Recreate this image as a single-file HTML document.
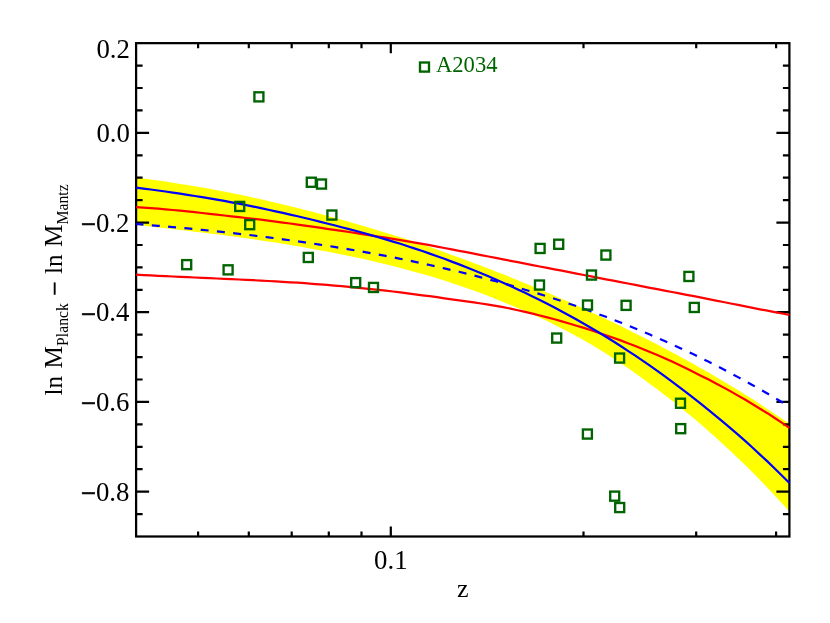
<!DOCTYPE html>
<html><head><meta charset="utf-8"><title>plot</title>
<style>html,body{margin:0;padding:0;background:#fff}svg{display:block;position:absolute;left:0;top:0;will-change:transform;transform:translateZ(0)}text{font-family:"Liberation Serif",serif}</style></head>
<body><svg width="830" height="623" viewBox="0 0 830 623">
<rect width="830" height="623" fill="#fff"/>
<path d="M136.1,177.6 L143.4,178.6 L150.8,179.5 L158.1,180.5 L165.5,181.6 L172.8,182.7 L180.1,183.9 L187.5,185.0 L194.8,186.3 L202.2,187.5 L209.5,188.8 L216.8,190.2 L224.2,191.6 L231.5,193.0 L238.9,194.5 L246.2,196.1 L253.5,197.7 L260.9,199.3 L268.2,201.0 L275.6,202.7 L282.9,204.4 L290.2,206.2 L297.6,208.0 L304.9,209.9 L312.3,211.8 L319.6,213.8 L327.0,215.7 L334.3,217.7 L341.6,219.7 L349.0,221.8 L356.3,223.9 L363.7,226.0 L371.0,228.2 L378.3,230.4 L385.7,232.7 L393.0,234.9 L400.4,237.3 L407.7,239.6 L415.0,242.1 L422.4,244.5 L429.7,247.0 L437.1,249.6 L444.4,252.2 L451.7,254.9 L459.1,257.6 L466.4,260.3 L473.8,263.0 L481.1,265.8 L488.4,268.6 L495.8,271.5 L503.1,274.3 L510.5,277.3 L517.8,280.2 L525.1,283.3 L532.5,286.3 L539.8,289.4 L547.2,292.5 L554.5,295.7 L561.8,298.9 L569.2,302.1 L576.5,305.4 L583.9,308.8 L591.2,312.2 L598.5,315.6 L605.9,319.1 L613.2,322.6 L620.6,326.1 L627.9,329.7 L635.3,333.4 L642.6,337.1 L649.9,340.8 L657.3,344.6 L664.6,348.5 L672.0,352.3 L679.3,356.3 L686.6,360.3 L694.0,364.3 L701.3,368.4 L708.7,372.6 L716.0,376.9 L723.3,381.3 L730.7,385.7 L738.0,390.1 L745.4,394.7 L752.7,399.3 L760.0,404.1 L767.4,409.0 L774.7,413.9 L782.1,418.8 L789.4,423.7 L789.4,511.6 L782.1,503.4 L774.7,495.4 L767.4,487.7 L760.0,480.0 L752.7,472.6 L745.4,465.3 L738.0,458.2 L730.7,451.2 L723.3,444.4 L716.0,437.7 L708.7,431.2 L701.3,424.7 L694.0,418.5 L686.6,412.4 L679.3,406.4 L672.0,400.6 L664.6,394.9 L657.3,389.3 L649.9,383.9 L642.6,378.5 L635.3,373.3 L627.9,368.1 L620.6,363.1 L613.2,358.2 L605.9,353.5 L598.5,349.0 L591.2,344.6 L583.9,340.3 L576.5,336.2 L569.2,332.2 L561.8,328.4 L554.5,324.7 L547.2,321.1 L539.8,317.7 L532.5,314.3 L525.1,311.1 L517.8,308.0 L510.5,304.9 L503.1,301.9 L495.8,298.9 L488.4,296.0 L481.1,293.2 L473.8,290.5 L466.4,287.9 L459.1,285.4 L451.7,283.0 L444.4,280.6 L437.1,278.3 L429.7,276.1 L422.4,274.0 L415.0,271.9 L407.7,269.9 L400.4,267.9 L393.0,266.0 L385.7,264.2 L378.3,262.4 L371.0,260.7 L363.7,259.1 L356.3,257.5 L349.0,255.9 L341.6,254.5 L334.3,253.0 L327.0,251.6 L319.6,250.3 L312.3,248.9 L304.9,247.6 L297.6,246.3 L290.2,245.0 L282.9,243.8 L275.6,242.6 L268.2,241.5 L260.9,240.4 L253.5,239.3 L246.2,238.2 L238.9,237.2 L231.5,236.2 L224.2,235.2 L216.8,234.3 L209.5,233.4 L202.2,232.5 L194.8,231.7 L187.5,230.8 L180.1,230.0 L172.8,229.1 L165.5,228.3 L158.1,227.5 L150.8,226.6 L143.4,225.8 L136.1,225.0Z" fill="#ffff00"/>
<path d="M198.1,536.5 v-5 M198.1,43.15 v5 M248.8,536.5 v-5 M248.8,43.15 v5 M291.7,536.5 v-5 M291.7,43.15 v5 M328.8,536.5 v-5 M328.8,43.15 v5 M361.5,536.5 v-5 M361.5,43.15 v5 M390.8,536.5 v-10 M390.8,43.15 v10 M583.5,536.5 v-5 M583.5,43.15 v5 M696.2,536.5 v-5 M696.2,43.15 v5 M776.1,536.5 v-5 M776.1,43.15 v5 M136.1,65.6 h6.5 M789.4,65.6 h-6.5 M136.1,88.0 h6.5 M789.4,88.0 h-6.5 M136.1,110.4 h6.5 M789.4,110.4 h-6.5 M136.1,132.8 h13 M789.4,132.8 h-13 M136.1,155.3 h6.5 M789.4,155.3 h-6.5 M136.1,177.7 h6.5 M789.4,177.7 h-6.5 M136.1,200.1 h6.5 M789.4,200.1 h-6.5 M136.1,222.6 h13 M789.4,222.6 h-13 M136.1,245.0 h6.5 M789.4,245.0 h-6.5 M136.1,267.4 h6.5 M789.4,267.4 h-6.5 M136.1,289.8 h6.5 M789.4,289.8 h-6.5 M136.1,312.2 h13 M789.4,312.2 h-13 M136.1,334.7 h6.5 M789.4,334.7 h-6.5 M136.1,357.1 h6.5 M789.4,357.1 h-6.5 M136.1,379.5 h6.5 M789.4,379.5 h-6.5 M136.1,401.9 h13 M789.4,401.9 h-13 M136.1,424.4 h6.5 M789.4,424.4 h-6.5 M136.1,446.8 h6.5 M789.4,446.8 h-6.5 M136.1,469.2 h6.5 M789.4,469.2 h-6.5 M136.1,491.6 h13 M789.4,491.6 h-13 M136.1,514.1 h6.5 M789.4,514.1 h-6.5" fill="none" stroke="#000" stroke-width="2.2"/>
<rect x="136.1" y="43.15" width="653.3" height="493.35" fill="none" stroke="#000" stroke-width="2.25"/>
<path d="M136.1,207.1 L143.4,207.6 L150.8,208.1 L158.1,208.7 L165.5,209.3 L172.8,210.0 L180.1,210.7 L187.5,211.4 L194.8,212.2 L202.2,213.0 L209.5,213.8 L216.8,214.6 L224.2,215.5 L231.5,216.3 L238.9,217.1 L246.2,218.0 L253.5,218.8 L260.9,219.7 L268.2,220.6 L275.6,221.6 L282.9,222.6 L290.2,223.5 L297.6,224.6 L304.9,225.6 L312.3,226.6 L319.6,227.7 L327.0,228.8 L334.3,229.8 L341.6,230.9 L349.0,232.0 L356.3,233.1 L363.7,234.3 L371.0,235.4 L378.3,236.6 L385.7,237.7 L393.0,238.9 L400.4,240.1 L407.7,241.3 L415.0,242.6 L422.4,243.9 L429.7,245.2 L437.1,246.6 L444.4,248.0 L451.7,249.4 L459.1,250.8 L466.4,252.2 L473.8,253.6 L481.1,255.1 L488.4,256.5 L495.8,257.9 L503.1,259.4 L510.5,260.8 L517.8,262.2 L525.1,263.7 L532.5,265.1 L539.8,266.5 L547.2,267.9 L554.5,269.3 L561.8,270.7 L569.2,272.1 L576.5,273.6 L583.9,275.0 L591.2,276.4 L598.5,277.8 L605.9,279.3 L613.2,280.7 L620.6,282.1 L627.9,283.5 L635.3,284.9 L642.6,286.4 L649.9,287.8 L657.3,289.2 L664.6,290.6 L672.0,292.0 L679.3,293.4 L686.6,294.8 L694.0,296.2 L701.3,297.7 L708.7,299.1 L716.0,300.6 L723.3,302.0 L730.7,303.5 L738.0,304.9 L745.4,306.4 L752.7,307.8 L760.0,309.3 L767.4,310.7 L774.7,312.1 L782.1,313.5 L789.4,314.9" fill="none" stroke="#ff0000" stroke-width="2.2"/>
<path d="M136.1,274.7 L143.4,275.1 L150.8,275.4 L158.1,275.8 L165.5,276.1 L172.8,276.5 L180.1,276.8 L187.5,277.1 L194.8,277.5 L202.2,277.8 L209.5,278.1 L216.8,278.5 L224.2,278.8 L231.5,279.1 L238.9,279.5 L246.2,279.9 L253.5,280.2 L260.9,280.6 L268.2,281.0 L275.6,281.4 L282.9,281.8 L290.2,282.3 L297.6,282.7 L304.9,283.2 L312.3,283.8 L319.6,284.3 L327.0,284.9 L334.3,285.6 L341.6,286.2 L349.0,286.9 L356.3,287.6 L363.7,288.3 L371.0,289.1 L378.3,289.9 L385.7,290.7 L393.0,291.5 L400.4,292.4 L407.7,293.4 L415.0,294.3 L422.4,295.3 L429.7,296.2 L437.1,297.2 L444.4,298.3 L451.7,299.3 L459.1,300.3 L466.4,301.3 L473.8,302.4 L481.1,303.5 L488.4,304.7 L495.8,305.9 L503.1,307.2 L510.5,308.6 L517.8,310.2 L525.1,311.9 L532.5,313.6 L539.8,315.5 L547.2,317.4 L554.5,319.3 L561.8,321.4 L569.2,323.5 L576.5,325.7 L583.9,327.9 L591.2,330.3 L598.5,332.7 L605.9,335.2 L613.2,337.8 L620.6,340.4 L627.9,343.2 L635.3,346.0 L642.6,349.0 L649.9,352.0 L657.3,355.1 L664.6,358.3 L672.0,361.6 L679.3,365.1 L686.6,368.6 L694.0,372.2 L701.3,375.9 L708.7,379.6 L716.0,383.5 L723.3,387.4 L730.7,391.4 L738.0,395.6 L745.4,399.8 L752.7,404.2 L760.0,408.7 L767.4,413.2 L774.7,418.0 L782.1,422.8 L789.4,427.8" fill="none" stroke="#ff0000" stroke-width="2.2"/>
<path d="M136.1,224.0 L143.4,224.6 L150.8,225.2 L158.1,225.8 L165.5,226.4 L172.8,227.1 L180.1,227.8 L187.5,228.4 L194.8,229.1 L202.2,229.9 L209.5,230.6 L216.8,231.4 L224.2,232.2 L231.5,233.0 L238.9,233.8 L246.2,234.6 L253.5,235.5 L260.9,236.4 L268.2,237.3 L275.6,238.3 L282.9,239.3 L290.2,240.3 L297.6,241.3 L304.9,242.4 L312.3,243.4 L319.6,244.6 L327.0,245.7 L334.3,246.9 L341.6,248.1 L349.0,249.3 L356.3,250.6 L363.7,251.8 L371.0,253.2 L378.3,254.5 L385.7,255.9 L393.0,257.3 L400.4,258.8 L407.7,260.3 L415.0,261.8 L422.4,263.4 L429.7,265.0 L437.1,266.7 L444.4,268.4 L451.7,270.1 L459.1,271.8 L466.4,273.6 L473.8,275.5 L481.1,277.4 L488.4,279.3 L495.8,281.3 L503.1,283.3 L510.5,285.4 L517.8,287.5 L525.1,289.7 L532.5,291.9 L539.8,294.1 L547.2,296.4 L554.5,298.8 L561.8,301.2 L569.2,303.7 L576.5,306.2 L583.9,308.8 L591.2,311.4 L598.5,314.1 L605.9,316.8 L613.2,319.6 L620.6,322.5 L627.9,325.4 L635.3,328.4 L642.6,331.5 L649.9,334.6 L657.3,337.8 L664.6,341.0 L672.0,344.3 L679.3,347.7 L686.6,351.1 L694.0,354.6 L701.3,358.2 L708.7,361.8 L716.0,365.5 L723.3,369.3 L730.7,373.2 L738.0,377.1 L745.4,381.1 L752.7,385.2 L760.0,389.3 L767.4,393.5 L774.7,397.8 L782.1,402.2 L789.4,406.6" fill="none" stroke="#0000ff" stroke-width="2.2" stroke-dasharray="8 8.35" stroke-dashoffset="0.6"/>
<path d="M136.1,187.6 L143.4,188.6 L150.8,189.5 L158.1,190.5 L165.5,191.5 L172.8,192.6 L180.1,193.7 L187.5,194.8 L194.8,196.0 L202.2,197.1 L209.5,198.4 L216.8,199.6 L224.2,200.9 L231.5,202.3 L238.9,203.7 L246.2,205.1 L253.5,206.6 L260.9,208.1 L268.2,209.7 L275.6,211.3 L282.9,212.9 L290.2,214.6 L297.6,216.3 L304.9,218.0 L312.3,219.8 L319.6,221.6 L327.0,223.5 L334.3,225.3 L341.6,227.2 L349.0,229.1 L356.3,231.0 L363.7,233.0 L371.0,235.1 L378.3,237.2 L385.7,239.4 L393.0,241.6 L400.4,243.8 L407.7,246.2 L415.0,248.6 L422.4,251.0 L429.7,253.6 L437.1,256.2 L444.4,258.8 L451.7,261.6 L459.1,264.4 L466.4,267.3 L473.8,270.2 L481.1,273.2 L488.4,276.3 L495.8,279.4 L503.1,282.7 L510.5,286.0 L517.8,289.4 L525.1,292.8 L532.5,296.4 L539.8,300.0 L547.2,303.8 L554.5,307.6 L561.8,311.5 L569.2,315.5 L576.5,319.5 L583.9,323.7 L591.2,328.0 L598.5,332.3 L605.9,336.8 L613.2,341.3 L620.6,346.0 L627.9,350.8 L635.3,355.6 L642.6,360.6 L649.9,365.7 L657.3,370.9 L664.6,376.2 L672.0,381.6 L679.3,387.1 L686.6,392.7 L694.0,398.4 L701.3,404.2 L708.7,410.1 L716.0,416.1 L723.3,422.2 L730.7,428.4 L738.0,434.7 L745.4,441.2 L752.7,447.8 L760.0,454.6 L767.4,461.4 L774.7,468.5 L782.1,475.7 L789.4,483.0" fill="none" stroke="#0000ff" stroke-width="2.2"/>
<rect x="254.4" y="92.3" width="9" height="9.1" fill="none" stroke="#006400" stroke-width="2.35"/>
<rect x="306.8" y="177.7" width="9" height="9.1" fill="none" stroke="#006400" stroke-width="2.35"/>
<rect x="317.0" y="179.5" width="9" height="9.1" fill="none" stroke="#006400" stroke-width="2.35"/>
<rect x="235.2" y="201.9" width="9" height="9.1" fill="none" stroke="#006400" stroke-width="2.35"/>
<rect x="327.4" y="210.5" width="9" height="9.1" fill="none" stroke="#006400" stroke-width="2.35"/>
<rect x="245.2" y="220.1" width="9" height="9.1" fill="none" stroke="#006400" stroke-width="2.35"/>
<rect x="182.2" y="260.1" width="9" height="9.1" fill="none" stroke="#006400" stroke-width="2.35"/>
<rect x="223.6" y="265.3" width="9" height="9.1" fill="none" stroke="#006400" stroke-width="2.35"/>
<rect x="303.8" y="252.9" width="9" height="9.1" fill="none" stroke="#006400" stroke-width="2.35"/>
<rect x="351.2" y="278.1" width="9" height="9.1" fill="none" stroke="#006400" stroke-width="2.35"/>
<rect x="369.0" y="282.9" width="9" height="9.1" fill="none" stroke="#006400" stroke-width="2.35"/>
<rect x="420.0" y="62.5" width="9" height="9.1" fill="none" stroke="#006400" stroke-width="2.35"/>
<rect x="535.6" y="243.9" width="9" height="9.1" fill="none" stroke="#006400" stroke-width="2.35"/>
<rect x="554.2" y="239.7" width="9" height="9.1" fill="none" stroke="#006400" stroke-width="2.35"/>
<rect x="601.4" y="250.5" width="9" height="9.1" fill="none" stroke="#006400" stroke-width="2.35"/>
<rect x="587.0" y="270.5" width="9" height="9.1" fill="none" stroke="#006400" stroke-width="2.35"/>
<rect x="684.4" y="271.9" width="9" height="9.1" fill="none" stroke="#006400" stroke-width="2.35"/>
<rect x="535.0" y="280.5" width="9" height="9.1" fill="none" stroke="#006400" stroke-width="2.35"/>
<rect x="583.0" y="300.5" width="9" height="9.1" fill="none" stroke="#006400" stroke-width="2.35"/>
<rect x="621.6" y="300.8" width="9" height="9.1" fill="none" stroke="#006400" stroke-width="2.35"/>
<rect x="689.8" y="302.9" width="9" height="9.1" fill="none" stroke="#006400" stroke-width="2.35"/>
<rect x="552.2" y="333.5" width="9" height="9.1" fill="none" stroke="#006400" stroke-width="2.35"/>
<rect x="615.1" y="353.5" width="9" height="9.1" fill="none" stroke="#006400" stroke-width="2.35"/>
<rect x="676.0" y="398.7" width="9" height="9.1" fill="none" stroke="#006400" stroke-width="2.35"/>
<rect x="676.2" y="424.1" width="9" height="9.1" fill="none" stroke="#006400" stroke-width="2.35"/>
<rect x="582.9" y="429.5" width="9" height="9.1" fill="none" stroke="#006400" stroke-width="2.35"/>
<rect x="610.2" y="491.6" width="9" height="9.1" fill="none" stroke="#006400" stroke-width="2.35"/>
<rect x="615.2" y="503.0" width="9" height="9.1" fill="none" stroke="#006400" stroke-width="2.35"/>
<text x="129.9" y="58.0" text-anchor="end" font-family="Liberation Serif, serif" font-size="26.8">0.2</text>
<text x="129.9" y="142.0" text-anchor="end" font-family="Liberation Serif, serif" font-size="26.8">0.0</text>
<text x="129.4" y="231.5" text-anchor="end" font-family="Liberation Serif, serif" font-size="26.8"><tspan dy="1.6" stroke="#000" stroke-width="0.6">−</tspan><tspan dy="-1.6">0.2</tspan></text>
<text x="129.4" y="321.1" text-anchor="end" font-family="Liberation Serif, serif" font-size="26.8"><tspan dy="1.6" stroke="#000" stroke-width="0.6">−</tspan><tspan dy="-1.6">0.4</tspan></text>
<text x="129.4" y="410.8" text-anchor="end" font-family="Liberation Serif, serif" font-size="26.8"><tspan dy="1.6" stroke="#000" stroke-width="0.6">−</tspan><tspan dy="-1.6">0.6</tspan></text>
<text x="129.4" y="500.5" text-anchor="end" font-family="Liberation Serif, serif" font-size="26.8"><tspan dy="1.6" stroke="#000" stroke-width="0.6">−</tspan><tspan dy="-1.6">0.8</tspan></text>
<text x="390.8" y="569" text-anchor="middle" font-family="Liberation Serif, serif" font-size="26.8">0.1</text>
<text x="462.8" y="597" text-anchor="middle" font-family="Liberation Serif, serif" font-size="26">z</text>
<text x="436" y="71.9" font-family="Liberation Serif, serif" font-size="22.6" fill="#006400">A2034</text>
<text transform="translate(61.8,395.5) rotate(-90)" font-family="Liberation Serif, serif" font-size="25.25" word-spacing="1.1">ln M<tspan font-size="15.75" dy="6">Planck</tspan><tspan dy="-4.4" stroke="#000" stroke-width="0.5"> −</tspan><tspan dy="-1.6"> ln M</tspan><tspan font-size="15.75" dy="6">Mantz</tspan></text>
</svg></body></html>
